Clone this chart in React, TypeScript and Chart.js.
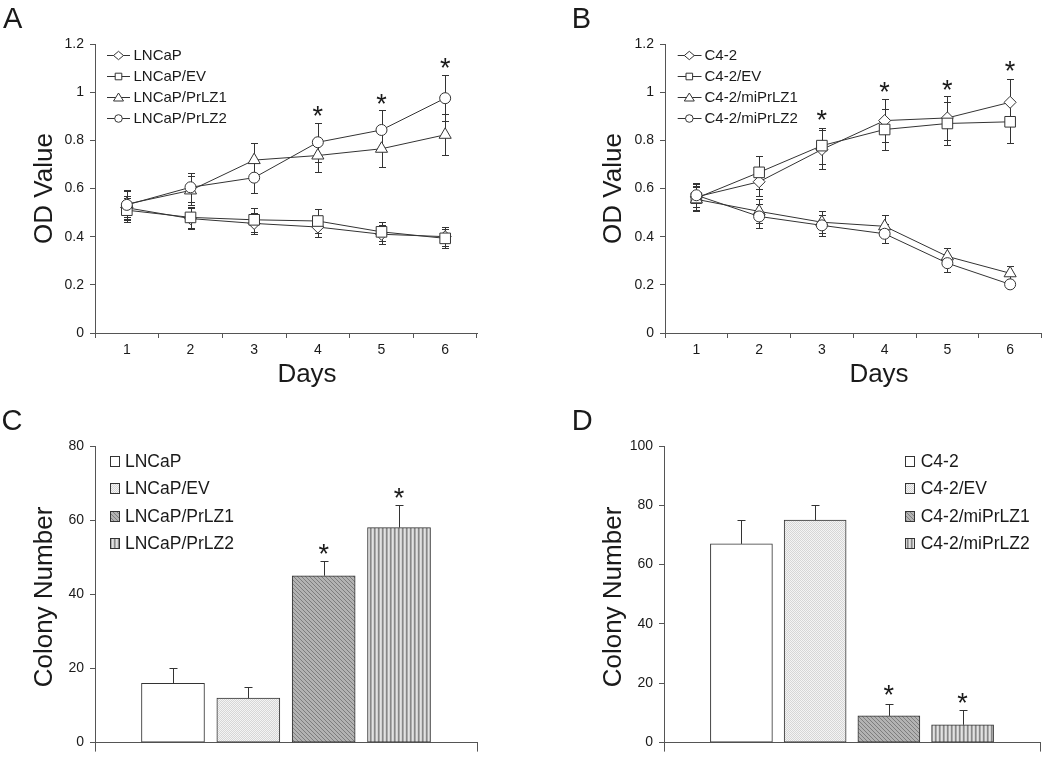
import React, { useEffect, useRef } from 'react';
import { Chart, registerables } from 'chart.js';

Chart.register(...registerables);

const FONT = "'Liberation Sans', Arial, Helvetica, sans-serif";
const INK = '#1a1a1a';
const AXIS = '#555555';
const LINE = '#333333';

// ---------- Panel A: LNCaP, OD value by day ----------
const days = ['1', '2', '3', '4', '5', '6'];
const aNames = ['LNCaP', 'LNCaP/EV', 'LNCaP/PrLZ1', 'LNCaP/PrLZ2'];
const aLNCaP = [0.52, 0.475, 0.455, 0.44, 0.41, 0.4];
const aLNCaPErr = [0.05, 0.045, 0.045, 0.04, 0.04, 0.04];
const aEV = [0.51, 0.48, 0.47, 0.465, 0.42, 0.393];
const aEVErr = [0.05, 0.045, 0.05, 0.05, 0.04, 0.04];
const aPrLZ1 = [0.535, 0.592, 0.718, 0.737, 0.765, 0.823];
const aPrLZ1Err = [0.055, 0.06, 0.07, 0.07, 0.075, 0.085];
const aPrLZ2 = [0.532, 0.605, 0.645, 0.792, 0.843, 0.975];
const aPrLZ2Err = [0.06, 0.06, 0.065, 0.08, 0.083, 0.095];
const aStarDays = [4, 5, 6];
const aStarLevels = [0.927, 0.978, 1.128];

// ---------- Panel B: C4-2, OD value by day ----------
const bNames = ['C4-2', 'C4-2/EV', 'C4-2/miPrLZ1', 'C4-2/miPrLZ2'];
const bC42 = [0.565, 0.628, 0.762, 0.882, 0.893, 0.958];
const bC42Err = [0.055, 0.06, 0.08, 0.09, 0.09, 0.097];
const bEV = [0.56, 0.667, 0.778, 0.845, 0.87, 0.877];
const bEVErr = [0.05, 0.07, 0.075, 0.085, 0.09, 0.09];
const bMi1 = [0.555, 0.505, 0.46, 0.443, 0.318, 0.248];
const bMi1Err = [0.05, 0.05, 0.045, 0.045, 0.035, 0.03];
const bMi2 = [0.572, 0.484, 0.447, 0.412, 0.29, 0.202];
const bMi2Err = [0.05, 0.05, 0.045, 0.04, 0.035, 0.015];
const bStarDays = [3, 4, 5, 6];
const bStarLevels = [0.914, 1.027, 1.038, 1.114];

// ---------- Panel C: LNCaP colony numbers ----------
const cCategories = ['LNCaP', 'LNCaP/EV', 'LNCaP/PrLZ1', 'LNCaP/PrLZ2'];
const cColonies = [16, 12, 45, 58];
const cColonyErr = [4, 3, 4, 6.2];
const cStarBars = [3, 4];
const cStarLevels = [52.7, 67.9];

// ---------- Panel D: C4-2 colony numbers ----------
const dCategories = ['C4-2', 'C4-2/EV', 'C4-2/miPrLZ1', 'C4-2/miPrLZ2'];
const dColonies = [67, 75, 9, 6];
const dColonyErr = [8, 5.2, 4.1, 5.1];
const dStarBars = [3, 4];
const dStarLevels = [18.2, 15.7];

const markerStyles = ['rectRot', 'rect', 'triangle', 'circle'];
const markerRadii = [6, 7.5, 7, 5.5];

type TextItem = { text: string; x: number; y: number; size: number; rotate?: boolean; align?: CanvasTextAlign };
type LegendSpec = {
  kind: 'line' | 'box';
  labels: string[];
  rows: number[];
  size: number;
  lineX1?: number;
  lineX2?: number;
  markerX?: number;
  boxX?: number;
  textX: number;
  fills?: any[];
};

function legendMarker(ctx: CanvasRenderingContext2D, style: string, x: number, y: number) {
  ctx.beginPath();
  if (style === 'circle') {
    ctx.arc(x, y, 3.8, 0, Math.PI * 2);
  } else if (style === 'rect') {
    ctx.rect(x - 3.3, y - 3.3, 6.6, 6.6);
  } else if (style === 'rectRot') {
    ctx.moveTo(x, y - 4.2);
    ctx.lineTo(x + 5, y);
    ctx.lineTo(x, y + 4.2);
    ctx.lineTo(x - 5, y);
    ctx.closePath();
  } else {
    ctx.moveTo(x, y - 4.5);
    ctx.lineTo(x + 5, y + 3.5);
    ctx.lineTo(x - 5, y + 3.5);
    ctx.closePath();
  }
  ctx.fillStyle = '#fff';
  ctx.fill();
  ctx.stroke();
}

function annotations(texts: TextItem[], starX: number[], starY: number[], starSize: number, legend: LegendSpec) {
  return {
    id: 'annotations',
    afterDraw(chart: any) {
      const ctx: CanvasRenderingContext2D = chart.ctx;
      ctx.save();
      ctx.fillStyle = INK;
      ctx.textBaseline = 'alphabetic';
      for (const t of texts) {
        ctx.font = `${t.size}px ${FONT}`;
        ctx.textAlign = t.align || 'left';
        if (t.rotate) {
          ctx.save();
          ctx.translate(t.x, t.y);
          ctx.rotate(-Math.PI / 2);
          ctx.fillText(t.text, 0, 0);
          ctx.restore();
        } else {
          ctx.fillText(t.text, t.x, t.y);
        }
      }
      const xs = chart.scales.x;
      const ys = chart.scales.y;
      ctx.font = `${starSize}px ${FONT}`;
      ctx.textAlign = 'center';
      starX.forEach((xv, i) => {
        const px = xs.getPixelForValue(xv);
        const py = ys.getPixelForValue(starY[i]);
        ctx.fillText('*', px, py + 0.58 * starSize);
      });
      // legend
      ctx.font = `${legend.size}px ${FONT}`;
      ctx.textAlign = 'left';
      ctx.lineWidth = 1;
      ctx.strokeStyle = LINE;
      legend.labels.forEach((lab, i) => {
        const y = legend.rows[i];
        if (legend.kind === 'line') {
          ctx.beginPath();
          ctx.moveTo(legend.lineX1!, Math.round(y) + 0.5);
          ctx.lineTo(legend.lineX2!, Math.round(y) + 0.5);
          ctx.stroke();
          legendMarker(ctx, markerStyles[i], legend.markerX!, Math.round(y) + 0.5);
        } else {
          const bx = Math.round(legend.boxX!) + 0.5;
          const by = Math.round(y - 5) + 0.5;
          ctx.fillStyle = legend.fills![i];
          ctx.fillRect(bx, by, 9, 10);
          ctx.strokeRect(bx, by, 9, 10);
        }
        ctx.fillStyle = INK;
        ctx.textBaseline = 'middle';
        ctx.fillText(lab, legend.textX, y + 1);
        ctx.textBaseline = 'alphabetic';
      });
      ctx.restore();
    },
  };
}

const errorBars = {
  id: 'errorBars',
  beforeDatasetsDraw(chart: any) {
    drawErrors(chart, false);
  },
  afterDatasetsDraw(chart: any) {
    drawErrors(chart, true);
  },
};

function drawErrors(chart: any, upOnlyPass: boolean) {
  const ctx: CanvasRenderingContext2D = chart.ctx;
  const ys = chart.scales.y;
  ctx.save();
  ctx.strokeStyle = LINE;
  ctx.lineWidth = 1;
  chart.data.datasets.forEach((ds: any, di: number) => {
    if (!ds.errors || !!ds.errorUpOnly !== upOnlyPass) return;
    const meta = chart.getDatasetMeta(di);
    const cap = ds.errorUpOnly ? 4 : 3.5;
    meta.data.forEach((el: any, i: number) => {
      const raw = ds.data[i];
      const v = typeof raw === 'number' ? raw : raw.y;
      const e = ds.errors[i];
      const x = Math.round(el.x) + 0.5;
      const top = Math.round(ys.getPixelForValue(v + e)) + 0.5;
      const bot = ds.errorUpOnly ? el.y : Math.round(ys.getPixelForValue(v - e)) + 0.5;
      ctx.beginPath();
      ctx.moveTo(x, top);
      ctx.lineTo(x, bot);
      ctx.moveTo(x - cap, top);
      ctx.lineTo(x + cap, top);
      if (!ds.errorUpOnly) {
        ctx.moveTo(x - cap, bot);
        ctx.lineTo(x + cap, bot);
      }
      ctx.stroke();
    });
  });
  ctx.restore();
}

function yScale(max: number, step: number, width: number) {
  return {
    min: 0,
    max,
    ticks: {
      stepSize: step,
      color: INK,
      font: { family: FONT, size: 14 },
      padding: 6,
      callback: (v: any) => String(Math.round(Number(v) * 10) / 10),
    },
    grid: { drawOnChartArea: false, drawTicks: true, tickLength: 5, color: AXIS },
    border: { display: true, color: AXIS, width: 1 },
    afterFit: (s: any) => {
      s.width = width;
    },
  };
}

function lineDatasets(names: string[], values: number[][], errs: number[][]) {
  return names.map((label, i) => ({
    label,
    data: values[i],
    errors: errs[i],
    order: names.length - 1 - i,
    pointStyle: markerStyles[i],
    pointRadius: markerRadii[i],
    pointHoverRadius: markerRadii[i],
    borderColor: LINE,
    borderWidth: 1,
    backgroundColor: '#fff',
    pointBackgroundColor: '#fff',
    pointBorderColor: LINE,
    pointBorderWidth: 1,
    tension: 0,
    fill: false,
  }));
}

function makeLineChart(
  canvas: HTMLCanvasElement,
  names: string[],
  values: number[][],
  errs: number[][],
  starDays: number[],
  starLevels: number[],
  area: { left: number; right: number; top: number; bottom: number },
  texts: TextItem[],
  legend: LegendSpec
) {
  const W = canvas.width;
  const H = canvas.height;
  return new Chart(canvas, {
    type: 'line',
    data: { labels: days, datasets: lineDatasets(names, values, errs) as any },
    options: {
      responsive: false,
      animation: false,
      events: [],
      layout: { padding: { left: 0, top: area.top, right: W - area.right, bottom: 0 } },
      plugins: { legend: { display: false }, tooltip: { enabled: false } },
      scales: {
        x: {
          type: 'category',
          offset: true,
          grid: { offset: true, drawOnChartArea: false, drawTicks: true, tickLength: 5, color: AXIS },
          border: { display: true, color: AXIS, width: 1 },
          ticks: { color: INK, font: { family: FONT, size: 14 }, padding: 4, maxRotation: 0, autoSkip: false },
          afterFit: (s: any) => {
            s.height = H - area.bottom;
          },
        } as any,
        y: yScale(1.2, 0.2, area.left) as any,
      },
    },
    plugins: [
      errorBars,
      annotations(texts, starDays.map((d) => d - 1), starLevels, 27, legend),
    ],
  });
}

function makePatterns(ctx: CanvasRenderingContext2D) {
  const tile = (w: number, h: number, draw: (c: CanvasRenderingContext2D) => void) => {
    const c = document.createElement('canvas');
    c.width = w;
    c.height = h;
    const t = c.getContext('2d')!;
    draw(t);
    return ctx.createPattern(c, 'repeat')!;
  };
  const dotted = tile(2, 2, (t) => {
    t.fillStyle = '#f4f4f4';
    t.fillRect(0, 0, 2, 2);
    t.fillStyle = '#d6d6d6';
    t.fillRect(0, 0, 1, 1);
    t.fillRect(1, 1, 1, 1);
  });
  const diagonal = tile(4, 4, (t) => {
    t.fillStyle = '#b3b3b3';
    t.fillRect(0, 0, 4, 4);
    t.fillStyle = '#7e7e7e';
    for (let i = 0; i < 4; i++) t.fillRect(i, i, 1, 1);
  });
  const vertical = tile(4, 1, (t) => {
    const cols = ['#e2e2e2', '#d2d2d2', '#888888', '#ababab'];
    cols.forEach((c, i) => {
      t.fillStyle = c;
      t.fillRect(i, 0, 1, 1);
    });
  });
  return ['#ffffff', dotted, diagonal, vertical];
}

function makeBarChart(
  canvas: HTMLCanvasElement,
  categories: string[],
  values: number[],
  errs: number[],
  starBars: number[],
  starLevels: number[],
  yMax: number,
  xMin: number,
  xMax: number,
  thickness: number,
  area: { left: number; right: number; top: number; bottom: number },
  texts: TextItem[],
  legend: LegendSpec
) {
  const W = canvas.width;
  const H = canvas.height;
  const fills = makePatterns(canvas.getContext('2d')!);
  legend.fills = fills;
  return new Chart(canvas, {
    type: 'bar',
    data: {
      datasets: [
        {
          label: 'Colony Number',
          data: values.map((v, i) => ({ x: i + 1, y: v })),
          errors: errs,
          errorUpOnly: true,
          backgroundColor: fills,
          borderColor: LINE,
          borderWidth: 1,
          borderSkipped: false,
          barThickness: thickness,
        } as any,
      ],
    },
    options: {
      responsive: false,
      animation: false,
      events: [],
      layout: { padding: { left: 0, top: area.top, right: W - area.right, bottom: 0 } },
      plugins: { legend: { display: false }, tooltip: { enabled: false } },
      scales: {
        x: {
          type: 'linear',
          min: xMin,
          max: xMax,
          offset: false,
          grid: { offset: false, drawOnChartArea: false, drawTicks: true, tickLength: 9, color: AXIS },
          border: { display: true, color: AXIS, width: 1 },
          ticks: { display: false },
          afterBuildTicks: (s: any) => {
            s.ticks = [{ value: s.min }, { value: s.max }];
          },
          afterFit: (s: any) => {
            s.height = H - area.bottom;
          },
        } as any,
        y: yScale(yMax, 20, area.left) as any,
      },
    },
    plugins: [errorBars, annotations(texts, starBars, starLevels, 27, legend)],
  });
}

function Panel(props: {
  left: number;
  top: number;
  width: number;
  height: number;
  build: (c: HTMLCanvasElement) => Chart;
}) {
  const ref = useRef<HTMLCanvasElement>(null);
  useEffect(() => {
    const chart = props.build(ref.current!);
    return () => chart.destroy();
  }, []);
  return (
    <canvas
      ref={ref}
      width={props.width}
      height={props.height}
      style={{ position: 'absolute', left: props.left, top: props.top, width: props.width, height: props.height }}
    />
  );
}

export default function App() {
  return (
    <div style={{ position: 'absolute', left: 0, top: 0, width: 1050, height: 757, background: '#fff', overflow: 'hidden' }}>
      <Panel
        left={0}
        top={0}
        width={525}
        height={395}
        build={(c) =>
          makeLineChart(
            c,
            aNames,
            [aLNCaP, aEV, aPrLZ1, aPrLZ2],
            [aLNCaPErr, aEVErr, aPrLZ1Err, aPrLZ2Err],
            aStarDays,
            aStarLevels,
            { left: 95, right: 477, top: 44, bottom: 333 },
            [
              { text: 'A', x: 3, y: 28, size: 29 },
              { text: 'OD Value', x: 51.6, y: 188.5, size: 26, rotate: true, align: 'center' },
              { text: 'Days', x: 307, y: 382, size: 26, align: 'center' },
            ],
            { kind: 'line', labels: aNames, rows: [55.3, 76.3, 97.3, 118.3], size: 15, lineX1: 107, lineX2: 130, markerX: 118.5, textX: 133.5 }
          )
        }
      />
      <Panel
        left={525}
        top={0}
        width={525}
        height={395}
        build={(c) =>
          makeLineChart(
            c,
            bNames,
            [bC42, bEV, bMi1, bMi2],
            [bC42Err, bEVErr, bMi1Err, bMi2Err],
            bStarDays,
            bStarLevels,
            { left: 140, right: 523, top: 44, bottom: 333 },
            [
              { text: 'B', x: 46.7, y: 28, size: 29 },
              { text: 'OD Value', x: 96, y: 188.5, size: 26, rotate: true, align: 'center' },
              { text: 'Days', x: 354, y: 382, size: 26, align: 'center' },
            ],
            { kind: 'line', labels: bNames, rows: [55.3, 76.3, 97.3, 118.3], size: 15, lineX1: 152.7, lineX2: 176.5, markerX: 164.3, textX: 179.5 }
          )
        }
      />
      <Panel
        left={0}
        top={395}
        width={525}
        height={362}
        build={(c) =>
          makeBarChart(
            c,
            cCategories,
            cColonies,
            cColonyErr,
            cStarBars,
            cStarLevels,
            80,
            -0.035,
            5.035,
            63,
            { left: 95, right: 477, top: 51, bottom: 353 },
            [
              { text: 'C', x: 1.6, y: 35, size: 29 },
              { text: 'Colony Number', x: 52, y: 202, size: 26, rotate: true, align: 'center' },
            ],
            { kind: 'box', labels: cCategories, rows: [66, 93.3, 120.7, 147.7], size: 17.5, boxX: 110, textX: 125 }
          )
        }
      />
      <Panel
        left={525}
        top={395}
        width={525}
        height={362}
        build={(c) =>
          makeBarChart(
            c,
            dCategories,
            dColonies,
            dColonyErr,
            dStarBars,
            dStarLevels,
            100,
            -0.05,
            5.05,
            62,
            { left: 139, right: 515, top: 51, bottom: 353 },
            [
              { text: 'D', x: 46.7, y: 35, size: 29 },
              { text: 'Colony Number', x: 96.3, y: 202, size: 26, rotate: true, align: 'center' },
            ],
            { kind: 'box', labels: dCategories, rows: [66, 93.3, 120.7, 147.7], size: 17.5, boxX: 380, textX: 395.7 }
          )
        }
      />
    </div>
  );
}
